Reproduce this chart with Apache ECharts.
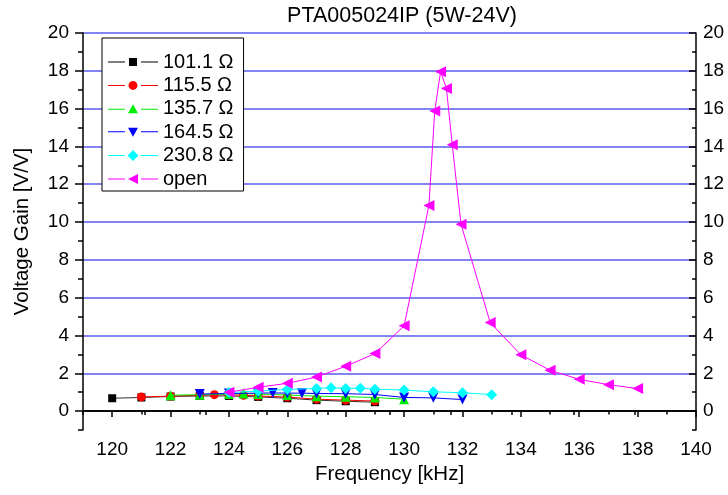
<!DOCTYPE html>
<html><head><meta charset="utf-8">
<script src="https://cdn.jsdelivr.net/npm/echarts@6/dist/echarts.min.js"></script>
<style>html,body{margin:0;padding:0;background:#fff}#c{width:728px;height:495px}</style>
</head><body><div id="c"></div>
<script>
// ---- data ----
const seriesNames = ['101.1 Ω', '115.5 Ω', '135.7 Ω', '164.5 Ω', '230.8 Ω', 'open'];

const freq101 = [120, 121, 122, 123, 124, 125, 126, 127, 128, 129];
const gain101 = [0.68, 0.72, 0.77, 0.80, 0.80, 0.75, 0.68, 0.58, 0.52, 0.47];

const freq115 = [121, 122, 123, 123.5, 124, 124.5, 125, 126, 127, 128, 129];
const gain115 = [0.75, 0.79, 0.84, 0.87, 0.86, 0.84, 0.80, 0.74, 0.63, 0.58, 0.53];

const freq135 = [122, 123, 124, 124.5, 125, 126, 127, 128, 129, 130];
const gain135 = [0.84, 0.87, 0.90, 0.93, 0.90, 0.85, 0.79, 0.76, 0.72, 0.63];

const freq164 = [123, 124, 125, 125.5, 126, 126.5, 127, 128, 129, 130, 131, 132];
const gain164 = [0.90, 0.93, 0.95, 0.96, 0.95, 0.95, 0.93, 0.92, 0.88, 0.72, 0.70, 0.61];

const freq230 = [124, 125, 126, 127, 127.5, 128, 128.5, 129, 130, 131, 132, 133];
const gain230 = [0.98, 1.06, 1.14, 1.20, 1.23, 1.20, 1.21, 1.16, 1.11, 1.02, 0.97, 0.87];

const freqOpen = [124, 125, 126, 127, 128, 129, 130, 130.85, 131.05, 131.25, 131.45, 131.65, 131.95, 132.95, 134, 135, 136, 137, 138];
const gainOpen = [1.00, 1.26, 1.47, 1.80, 2.37, 3.04, 4.51, 10.88, 15.88, 17.95, 17.07, 14.09, 9.88, 4.68, 2.98, 2.16, 1.68, 1.40, 1.19];

const xMajorTicks = [120, 122, 124, 126, 128, 130, 132, 134, 136, 138, 140];
const xMinorTicks = [119, 121, 123, 125, 127, 129, 131, 133, 135, 137, 139];
const yMajorTicks = [0, 2, 4, 6, 8, 10, 12, 14, 16, 18, 20];
const yMinorTicks = [-1, 1, 3, 5, 7, 9, 11, 13, 15, 17, 19];

const titleText = 'PTA005024IP (5W-24V)';
const xName = 'Frequency [kHz]';
const yName = 'Voltage Gain [V/V]';

// ---- chart ----
const FONT = '"Liberation Sans", Arial, sans-serif';
const pair = (xs, ys) => xs.map((x, i) => [x, ys[i]]);

// legend icons: line segment - symbol - line segment (with gaps)
const LINES = 'M0,5h17v1H0z M33,5h17v1H33z ';
const legendIcons = [
  'path://' + LINES + 'M21,1.5h8v8h-8z',
  'path://' + LINES + 'M20.5,5.5a4.5,4.5 0 1,0 9,0a4.5,4.5 0 1,0 -9,0z',
  'path://' + LINES + 'M25,0.5L30,9.5L20,9.5z',
  'path://' + LINES + 'M20,1.5L30,1.5L25,10.5z',
  'path://' + LINES + 'M25,0L30.5,5.5L25,11L19.5,5.5z',
  'path://' + LINES + 'M20,5.5L30,0.5L30,10.5z'
];

const styles = [
  { color: '#000000', line: '#333333', symbol: 'rect', size: 8, rotate: 0 },
  { color: '#ff0000', line: '#ff0000', symbol: 'circle', size: 9, rotate: 0 },
  { color: '#00ee00', line: '#00ee00', symbol: 'triangle', size: 10, rotate: 0 },
  { color: '#0000ff', line: '#0000ff', symbol: 'triangle', size: 10, rotate: 180 },
  { color: '#00ffff', line: '#00ffff', symbol: 'diamond', size: 11, rotate: 0 },
  { color: '#ff00ff', line: '#ff00ff', symbol: 'triangle', size: 11, rotate: 90 }
];
const datasets = [
  pair(freq101, gain101), pair(freq115, gain115), pair(freq135, gain135),
  pair(freq164, gain164), pair(freq230, gain230), pair(freqOpen, gainOpen)
];

const chart = echarts.init(document.getElementById('c'), null, { renderer: 'canvas' });

const axisLine = { show: true, lineStyle: { color: '#000', width: 1.5 } };

const option = {
  backgroundColor: '#fff',
  animation: false,
  textStyle: { fontFamily: FONT },
  title: {
    text: titleText, left: 402, top: 5, textAlign: 'center', padding: 0,
    textStyle: { fontFamily: FONT, fontSize: 21.5, fontWeight: 'normal', color: '#000' }
  },
  grid: { left: 83, right: 32, top: 33, bottom: 65 },
  legend: {
    orient: 'vertical', left: 102, top: 38,
    data: seriesNames.map((n, i) => ({ name: n, icon: legendIcons[i] })),
    itemWidth: 50, itemHeight: 11, itemGap: 3.4,
    symbolRotate: 0,
    symbolKeepAspect: true,
    padding: [14, 10, 2, 6],
    borderColor: '#000', borderWidth: 1, backgroundColor: '#fff',
    textStyle: { fontFamily: FONT, fontSize: 20, color: '#000', lineHeight: 20 }
  },
  xAxis: [
    {
      type: 'value', position: 'bottom', min: 119, max: 140, interval: 1,
      name: xName, nameLocation: 'middle', nameGap: 31,
      nameTextStyle: { fontFamily: FONT, fontSize: 20.5, color: '#000' },
      axisLine: axisLine,
      axisTick: { show: true, inside: false, length: 6, customValues: xMajorTicks, lineStyle: { color: '#000', width: 1.5 } },
      axisLabel: { customValues: xMajorTicks, fontFamily: FONT, fontSize: 19, color: '#000', margin: 10 },
      splitLine: { show: false }
    },
    {
      type: 'value', position: 'bottom', min: 119, max: 140, interval: 1,
      axisLine: { show: false },
      axisTick: { show: true, inside: false, length: 3.5, customValues: xMinorTicks, lineStyle: { color: '#000', width: 1.5 } },
      axisLabel: { show: false },
      splitLine: { show: false }
    },
    {
      type: 'value', position: 'top', min: 0, max: 10, interval: 1,
      axisLine: axisLine,
      axisTick: { show: true, inside: true, length: 4, lineStyle: { color: '#000', width: 1.5 } },
      axisLabel: { show: false },
      splitLine: { show: false }
    }
  ],
  yAxis: [
    {
      type: 'value', position: 'left', min: -1, max: 20, interval: 1,
      name: yName, nameLocation: 'middle', nameGap: 50,
      nameTextStyle: { fontFamily: FONT, fontSize: 20.5, color: '#000' },
      axisLine: axisLine,
      axisTick: { show: true, inside: false, length: 8, customValues: yMajorTicks, lineStyle: { color: '#000', width: 1.5 } },
      axisLabel: { customValues: yMajorTicks, fontFamily: FONT, fontSize: 19, color: '#000', margin: 14 },
      splitLine: { show: true, lineStyle: { color: '#5a5af0', width: 1.6 } }
    },
    {
      type: 'value', position: 'left', min: -1, max: 20, interval: 1,
      axisLine: { show: false },
      axisTick: { show: true, inside: false, length: 5, customValues: yMinorTicks, lineStyle: { color: '#000', width: 1.5 } },
      axisLabel: { show: false },
      splitLine: { show: false }
    },
    {
      type: 'value', position: 'right', min: -1, max: 20, interval: 1,
      axisLine: axisLine,
      axisTick: { show: true, inside: true, length: 7, customValues: yMajorTicks, lineStyle: { color: '#000', width: 1.5 } },
      axisLabel: { customValues: yMajorTicks, fontFamily: FONT, fontSize: 19, color: '#000', margin: 7 },
      splitLine: { show: false }
    },
    {
      type: 'value', position: 'right', min: -1, max: 20, interval: 1,
      axisLine: { show: false },
      axisTick: { show: true, inside: true, length: 4, customValues: yMinorTicks, lineStyle: { color: '#000', width: 1.5 } },
      axisLabel: { show: false },
      splitLine: { show: false }
    }
  ],
  series: seriesNames.map((name, i) => ({
    name: name,
    type: 'line',
    xAxisIndex: 0, yAxisIndex: 0,
    data: datasets[i],
    symbol: styles[i].symbol,
    symbolSize: styles[i].size,
    symbolRotate: styles[i].rotate,
    showAllSymbol: true,
    lineStyle: { color: styles[i].line, width: 1 },
    itemStyle: { color: styles[i].color, borderWidth: 0 },
    emphasis: { disabled: true },
    z: 3 + i
  }))
};
chart.setOption(option);
</script>
</body></html>
